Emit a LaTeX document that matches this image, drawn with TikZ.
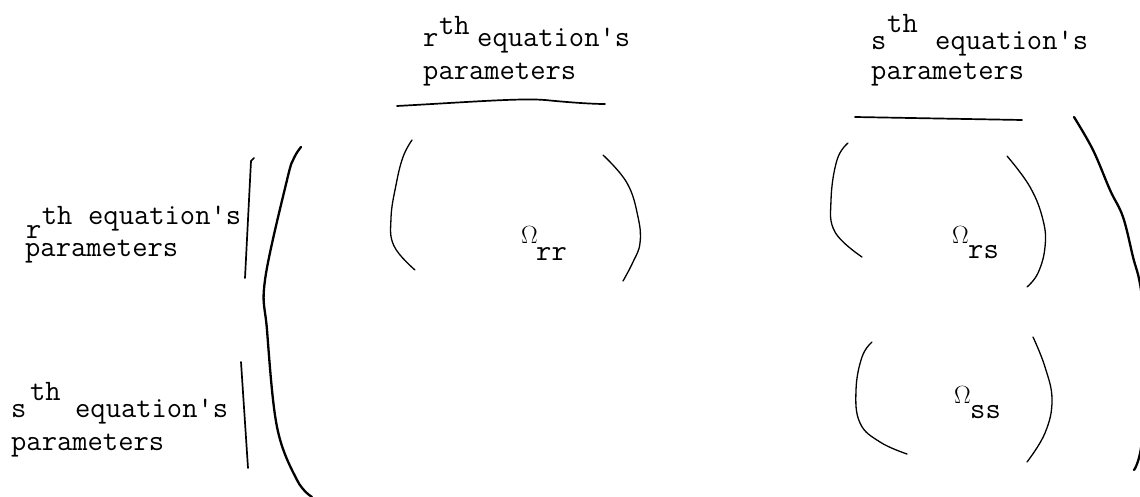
\documentclass[tikz,border=0pt]{standalone}
\begin{document}
\begin{tikzpicture}[x=1pt,y=-1pt,
  lbl/.style={anchor=base west,inner sep=0pt,font=\ttfamily\fontsize{29.7}{32}\selectfont},
  om/.style={anchor=base west,inner sep=0pt,font=\fontsize{26}{28}\selectfont},
  smallp/.style={line width=1.3pt,line cap=round},
  bigp/.style={line width=2.3pt,line cap=round},
  barline/.style={line width=1.7pt,line cap=round}]
\useasboundingbox (0,0) rectangle (1140,497);
\clip (0,0) rectangle (1140,497);

% top labels
\node[lbl] (tr1) at (423,47) {r};
\node[lbl] (tr2) at (438.8,35) {th};
\node[lbl] (tr3) at (477,47) {equation's};
\node[lbl] (tr4) at (423,80) {parameters};
\node[lbl] (ts1) at (871,50) {s};
\node[lbl] (ts2) at (887,33) {th};
\node[lbl] (ts3) at (935,50) {equation's};
\node[lbl] (ts4) at (871,80) {parameters};

% left labels (the r is typed just under the th, as in the reference)
\node[lbl] (lr1) at (26,238) {r};
\node[lbl] (lr2) at (41.6,225) {th};
\node[lbl] (lr3) at (88,225) {equation's};
\node[lbl] (lr4) at (25,256) {parameters};
\node[lbl] (ls1) at (11,417) {s};
\node[lbl] (ls2) at (30,400) {th};
\node[lbl] (ls3) at (75,417) {equation's};
\node[lbl] (ls4) at (11,450) {parameters};

% over-lines
\draw[barline] (397,106) .. controls (470,102) and (520,98) .. (545,100) .. controls (565,102) and (590,104) .. (605,104);
\draw[barline] (855,117) -- (1022,120);

% side bars
\draw[barline] (254,158) -- (251,161) -- (245,278);
\draw[barline] (241,362) -- (248,468);

% big parentheses
\draw[bigp] plot[smooth,tension=0.6] coordinates {(301,147) (294,158) (287,180) (265,280) (267,330) (277,427) (297,480) (312,497)};
\draw[bigp] plot[smooth,tension=0.6] coordinates {(1074,117) (1093,150) (1110,190) (1123,217) (1133,257) (1141,290) (1150,370) (1141,448) (1134,470)};

% omega entries
\node[om] (o1) at (521,243) {$\Omega$};
\node[lbl] (s1) at (536,260) {rr};
\node[om] (o2) at (952,243) {$\Omega$};
\node[lbl] (s2) at (968,258) {rs};
\node[om] (o3) at (954,403) {$\Omega$};
\node[lbl] (s3) at (970,418) {ss};

% small parentheses
\draw[smallp] plot[smooth,tension=0.7] coordinates {(412,140) (403,157) (396,185) (391,218) (394,246) (415,270)};
\draw[smallp] plot[smooth,tension=0.7] coordinates {(603,155) (627,183) (638,217) (640,243) (633,262) (623,281)};
\draw[smallp] plot[smooth,tension=0.7] coordinates {(848,143) (837,160) (831,200) (835,232) (862,257)};
\draw[smallp] plot[smooth,tension=0.7] coordinates {(1007,156) (1030,187) (1043,220) (1045,247) (1038,273) (1027,287)};
\draw[smallp] plot[smooth,tension=0.7] coordinates {(872,342) (862,357) (856,390) (860,423) (880,442) (907,454)};
\draw[smallp] plot[smooth,tension=0.7] coordinates {(1033,337) (1045,367) (1052,400) (1045,433) (1027,462)};
\end{tikzpicture}
\end{document}
